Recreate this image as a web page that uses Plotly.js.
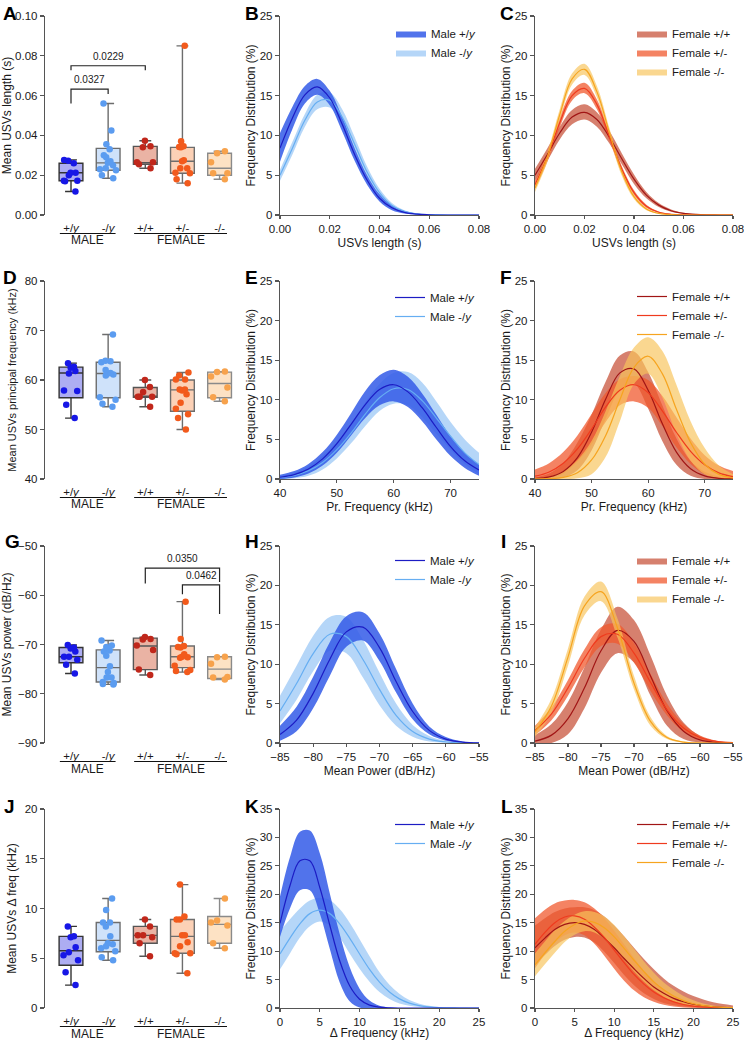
<!DOCTYPE html>
<html><head><meta charset="utf-8">
<script src="https://cdn.plot.ly/plotly-3.0.1.min.js"></script>
<style>html,body{margin:0;padding:0;background:#fff}#chart{width:744px;height:1040px}</style>
</head><body><div id="chart"></div>
<script>
// ---------------- categories / labels ----------------
const boxGroups = ['+/y', '-/y', '+/+', '+/-', '-/-'];
const boxTickText = ['+/<i>y</i>', '-/<i>y</i>', '+/+', '+/-', '-/-'];
const sexLabels = ['MALE', 'FEMALE'];
const maleNames = ['Male +/<i>y</i>', 'Male -/<i>y</i>'];
const femaleNames = ['Female +/+', 'Female +/-', 'Female -/-'];

// ---------------- Panel A: mean USV length (s) ----------------
const lenPts = [
  [0.0277, 0.0272, 0.026, 0.0212, 0.0212, 0.020, 0.0172, 0.0172, 0.0170, 0.0118],
  [0.056, 0.0425, 0.0355, 0.033, 0.030, 0.029, 0.027, 0.0262, 0.025, 0.0235, 0.023, 0.0225, 0.020, 0.0185],
  [0.0373, 0.0345, 0.034, 0.0265, 0.0265, 0.0255, 0.0235],
  [0.085, 0.037, 0.0345, 0.034, 0.0342, 0.0275, 0.027, 0.0235, 0.0235, 0.021, 0.0212, 0.018, 0.016],
  [0.032, 0.031, 0.0265, 0.021, 0.021, 0.018]
];
const lenQ1 = [0.0172, 0.0225, 0.0255, 0.021, 0.020];
const lenMed = [0.0212, 0.0262, 0.0263, 0.027, 0.0235];
const lenQ3 = [0.026, 0.0335, 0.0345, 0.034, 0.031];

// ---------------- Panel D: principal frequency (kHz) ----------------
const frqPts = [
  [63.4, 62.7, 62.5, 61.8, 61.3, 57.9, 57.8, 55.0, 52.3],
  [69.2, 63.9, 63.8, 63.6, 62.0, 61.4, 61.3, 61.1, 60.9, 56.5, 56.0, 55.2, 54.6],
  [60.0, 58.6, 57.6, 56.6, 56.6, 56.6, 54.6],
  [61.5, 60.9, 60.1, 60.1, 58.1, 58.1, 57.9, 57.1, 55.4, 54.2, 53.1, 52.3, 50.0],
  [61.7, 61.6, 60.7, 58.5, 56.5, 55.7]
];
const frqQ1 = [56.4, 56.4, 56.5, 53.7, 56.4];
const frqMed = [61.4, 61.3, 56.6, 58.0, 59.3];
const frqQ3 = [62.6, 63.6, 58.5, 60.0, 61.6];

// ---------------- Panel G: power (dB/Hz) ----------------
const powPts = [
  [-70.1, -70.6, -70.8, -71.4, -72.5, -72.5, -73.1, -74.1, -75.9],
  [-69.2, -70.2, -70.5, -71.2, -71.4, -72.3, -74.4, -75.6, -76.7, -76.7, -77.6, -77.8, -78.0, -78.1],
  [-68.5, -68.9, -69.0, -70.2, -71.1, -75.1, -76.2],
  [-61.3, -68.9, -70.3, -70.5, -70.6, -72.0, -72.5, -72.6, -72.7, -74.3, -75.2, -75.4, -75.6],
  [-72.6, -72.5, -73.9, -76.6, -76.7, -77.1]
];
const powQ1 = [-73.7, -77.6, -75.1, -74.7, -76.9];
const powMed = [-72.5, -74.7, -70.3, -72.5, -75.0];
const powQ3 = [-70.6, -71.1, -68.7, -70.3, -72.5];

// ---------------- Panel J: delta frequency (kHz) ----------------
const dfPts = [
  [8.2, 7.2, 7.1, 6.1, 5.6, 5.3, 4.8, 3.6, 2.3],
  [11.0, 9.85, 8.6, 8.6, 8.2, 7.2, 6.5, 6.4, 6.2, 6.0, 5.7, 5.1, 4.8],
  [8.9, 8.2, 7.3, 7.3, 7.1, 6.5, 5.2],
  [12.4, 9.2, 8.9, 8.9, 7.3, 7.3, 6.6, 6.2, 5.5, 5.5, 5.4, 3.5],
  [11.0, 8.8, 8.6, 8.3, 6.5, 6.0]
];
const dfQ1 = [4.3, 5.65, 6.5, 5.5, 6.5];
const dfMed = [5.75, 6.8, 7.3, 7.2, 8.4];
const dfQ3 = [7.2, 8.6, 8.2, 8.9, 9.2];

// ---------------- Panels B / C: USV length distributions ----------------
const lenX = [0, 0.005, 0.01, 0.015, 0.02, 0.025, 0.03, 0.035, 0.04, 0.045, 0.05, 0.055, 0.06, 0.065, 0.07, 0.075, 0.08];
const len_mpy    = [8.4, 12.2, 15.1, 16.1, 14.7, 11.4, 7.6, 4.4, 2.1, 0.9, 0.32, 0.1, 0.03, 0, 0, 0, 0];
const len_mpy_hi = [10.3, 13.6, 16.2, 17.1, 15.6, 12.3, 8.4, 5.0, 2.6, 1.2, 0.5, 0.2, 0.05, 0, 0, 0, 0];
const len_mpy_lo = [6.7, 10.8, 14.0, 15.1, 13.8, 10.5, 6.8, 3.8, 1.7, 0.6, 0.2, 0.05, 0, 0, 0, 0, 0];
const len_mmy    = [5.0, 8.4, 11.9, 14.2, 14.4, 12.3, 8.9, 5.4, 2.8, 1.2, 0.45, 0.14, 0.04, 0.01, 0, 0, 0];
const len_mmy_hi = [5.7, 9.2, 12.7, 15.1, 15.4, 13.3, 9.8, 6.1, 3.3, 1.5, 0.6, 0.2, 0.06, 0.01, 0, 0, 0];
const len_mmy_lo = [4.3, 7.6, 11.1, 13.3, 13.5, 11.4, 8.1, 4.8, 2.4, 1.0, 0.35, 0.1, 0.02, 0, 0, 0, 0];
const len_fpp    = [5.0, 7.6, 10.3, 12.3, 12.9, 12.0, 9.8, 7.1, 4.5, 2.5, 1.24, 0.54, 0.21, 0.07, 0.02, 0, 0];
const len_fpp_hi = [5.8, 8.4, 11.1, 13.2, 13.9, 12.9, 10.6, 7.8, 5.1, 2.9, 1.5, 0.7, 0.28, 0.1, 0.03, 0, 0];
const len_fpp_lo = [4.3, 6.8, 9.5, 11.4, 12.0, 11.1, 9.0, 6.4, 3.9, 2.1, 1.0, 0.4, 0.15, 0.04, 0.01, 0, 0];
const len_fpm    = [3.8, 7.3, 11.6, 15.0, 15.9, 13.9, 9.9, 5.8, 2.8, 1.1, 0.35, 0.09, 0.02, 0, 0, 0, 0];
const len_fpm_hi = [4.3, 7.9, 12.2, 15.6, 16.6, 14.5, 10.4, 6.2, 3.1, 1.3, 0.45, 0.13, 0.03, 0, 0, 0, 0];
const len_fpm_lo = [3.3, 6.7, 11.0, 14.4, 15.3, 13.3, 9.4, 5.4, 2.5, 0.9, 0.27, 0.06, 0.01, 0, 0, 0, 0];
const len_fmm    = [3.4, 7.3, 12.6, 17.1, 18.3, 15.5, 10.4, 5.5, 2.3, 0.76, 0.2, 0.04, 0, 0, 0, 0, 0];
const len_fmm_hi = [3.9, 7.9, 13.3, 17.8, 19.0, 16.2, 11.0, 5.9, 2.6, 0.9, 0.26, 0.06, 0.01, 0, 0, 0, 0];
const len_fmm_lo = [2.9, 6.7, 11.9, 16.4, 17.6, 14.8, 9.8, 5.0, 2.0, 0.6, 0.15, 0.03, 0, 0, 0, 0, 0];

// ---------------- Panels E / F: principal frequency distributions ----------------
const frqX = [40, 42.5, 45, 47.5, 50, 52.5, 55, 57.5, 60, 62.5, 65, 67.5, 70, 72.5, 75];
const frq_mpy    = [0.22, 0.56, 1.27, 2.54, 4.46, 6.9, 9.4, 11.3, 11.9, 11.0, 9.0, 6.5, 4.1, 2.3, 1.13];
const frq_mpy_hi = [0.55, 1.0, 1.9, 3.4, 5.6, 8.3, 11.1, 13.1, 13.8, 12.9, 10.8, 8.1, 5.4, 3.3, 1.8];
const frq_mpy_lo = [0, 0.2, 0.7, 1.7, 3.3, 5.5, 7.7, 9.3, 9.8, 9.1, 7.3, 5.0, 2.9, 1.4, 0.4];
const frq_mmy    = [0.18, 0.46, 1.04, 2.08, 3.7, 5.8, 8.2, 10.25, 11.4, 11.3, 9.9, 7.7, 5.4, 3.3, 1.83];
const frq_mmy_hi = [0.35, 0.8, 1.6, 2.9, 4.7, 7.0, 9.7, 12.0, 13.4, 13.5, 12.2, 9.8, 7.2, 5.0, 3.3];
const frq_mmy_lo = [0, 0.1, 0.4, 1.2, 2.6, 4.5, 6.7, 8.6, 9.5, 9.3, 7.8, 5.7, 3.7, 1.9, 0.6];
const frq_fpp    = [0.06, 0.26, 0.96, 2.7, 5.9, 10.1, 13.4, 13.9, 11.2, 7.0, 3.4, 1.3, 0.39, 0.09, 0.02];
const frq_fpp_hi = [0.2, 0.7, 2.0, 4.6, 8.1, 12.3, 15.6, 16.1, 13.5, 9.3, 5.1, 2.3, 0.9, 0.3, 0.1];
const frq_fpp_lo = [0, 0, 0.2, 1.1, 3.6, 7.6, 11.2, 12.0, 8.9, 4.8, 1.8, 0.4, 0, 0, 0];
const frq_fpm    = [0.35, 0.89, 2.0, 3.8, 6.3, 9.1, 11.2, 11.9, 10.9, 8.6, 5.9, 3.5, 1.8, 0.77, 0.29];
const frq_fpm_hi = [1.2, 2.0, 3.4, 5.5, 8.2, 10.9, 12.6, 13.0, 12.5, 10.5, 7.8, 5.1, 3.0, 1.7, 1.0];
const frq_fpm_lo = [0, 0.1, 0.7, 2.2, 4.4, 7.2, 9.3, 9.8, 9.0, 6.7, 4.0, 1.9, 0.6, 0, 0];
const frq_fmm    = [0.01, 0.04, 0.2, 0.79, 2.4, 5.5, 10.0, 14.1, 15.5, 13.3, 8.8, 4.6, 1.86, 0.58, 0.14];
const frq_fmm_hi = [0.1, 0.3, 1.0, 2.4, 4.8, 8.6, 13.0, 16.6, 17.9, 16.2, 11.9, 7.3, 3.9, 1.7, 0.6];
const frq_fmm_lo = [0, 0, 0, 0.1, 0.6, 2.8, 7.3, 12.0, 13.3, 10.3, 5.7, 2.3, 0.6, 0.1, 0];

// ---------------- Panels H / I: mean power distributions ----------------
const powX = [-85, -82.5, -80, -77.5, -75, -72.5, -70, -67.5, -65, -62.5, -60, -57.5, -55];
const pow_mpy    = [1.07, 2.9, 6.3, 10.6, 14.1, 14.7, 12.1, 7.8, 4.0, 1.6, 0.5, 0.12, 0.02];
const pow_mpy_hi = [2.2, 4.6, 8.4, 12.8, 16.1, 16.6, 13.9, 9.4, 5.0, 2.1, 0.75, 0.2, 0.03];
const pow_mpy_lo = [0.3, 1.5, 4.4, 8.5, 12.2, 13.0, 10.4, 6.4, 3.0, 1.1, 0.3, 0.06, 0.01];
const pow_mmy    = [4.06, 7.55, 11.35, 13.8, 13.5, 10.6, 6.8, 3.5, 1.45, 0.49, 0.13, 0.03, 0];
const pow_mmy_hi = [6.0, 9.8, 13.6, 16.0, 16.0, 13.1, 8.9, 5.0, 2.3, 0.9, 0.3, 0.07, 0.01];
const pow_mmy_lo = [2.5, 5.5, 9.1, 11.7, 11.4, 8.3, 4.8, 2.2, 0.8, 0.2, 0.05, 0, 0];
const pow_fpp    = [0.24, 1.0, 3.1, 7.0, 11.7, 14.3, 12.9, 8.5, 4.1, 1.5, 0.39, 0.07, 0.01];
const pow_fpp_hi = [1.0, 2.4, 5.2, 9.6, 14.4, 17.3, 15.6, 11.1, 6.0, 2.6, 0.9, 0.25, 0.05];
const pow_fpp_lo = [0, 0, 1.1, 4.4, 8.9, 11.4, 10.2, 6.0, 2.2, 0.5, 0.05, 0, 0];
const pow_fpm    = [1.57, 3.7, 7.0, 10.75, 13.5, 13.8, 11.4, 7.7, 4.2, 1.9, 0.69, 0.2, 0.05];
const pow_fpm_hi = [2.2, 4.5, 8.0, 11.9, 14.7, 15.1, 12.7, 8.8, 5.0, 2.4, 0.95, 0.3, 0.08];
const pow_fpm_lo = [1.0, 2.9, 6.0, 9.6, 12.3, 12.6, 10.2, 6.6, 3.5, 1.45, 0.47, 0.12, 0.02];
const pow_fmm    = [1.4, 4.7, 10.9, 17.4, 19.2, 14.6, 7.6, 2.75, 0.69, 0.12, 0.02, 0, 0];
const pow_fmm_hi = [2.0, 5.6, 12.0, 18.6, 20.5, 15.8, 8.5, 3.3, 0.9, 0.18, 0.03, 0, 0];
const pow_fmm_lo = [0.8, 3.8, 9.8, 16.2, 18.0, 13.4, 6.8, 2.2, 0.5, 0.07, 0.01, 0, 0];

// ---------------- Panels K / L: delta frequency distributions ----------------
const dfX = [0, 1.25, 2.5, 3.75, 5, 6.25, 7.5, 8.75, 10, 11.25, 12.5, 13.75, 15, 16.25, 17.5, 18.75, 20, 21.25, 22.5, 23.75, 25];
const df_mpy    = [14.9, 21.5, 25.9, 25.9, 21.2, 14.6, 8.3, 3.9, 1.55, 0.51, 0.14, 0.03, 0, 0, 0, 0, 0, 0, 0, 0, 0];
const df_mpy_hi = [19.6, 26.5, 31.0, 31.2, 27.2, 20.2, 13.0, 7.2, 3.4, 1.3, 0.4, 0.1, 0.02, 0, 0, 0, 0, 0, 0, 0, 0];
const df_mpy_lo = [12.5, 17.5, 20.7, 20.7, 16.6, 10.4, 4.5, 1.2, 0.1, 0, 0, 0, 0, 0, 0, 0, 0, 0, 0, 0, 0];
const df_mmy    = [9.5, 12.3, 14.8, 16.6, 17.2, 16.6, 14.8, 12.3, 9.5, 6.8, 4.55, 2.8, 1.6, 0.86, 0.43, 0.2, 0.08, 0.03, 0, 0, 0];
const df_mmy_hi = [13.5, 15.6, 17.5, 18.9, 19.4, 19.0, 17.4, 15.0, 12.1, 9.1, 6.3, 4.1, 2.5, 1.4, 0.75, 0.38, 0.18, 0.07, 0.03, 0.01, 0];
const df_mmy_lo = [6.8, 9.6, 12.4, 14.4, 15.2, 14.5, 12.4, 9.6, 6.9, 4.6, 2.8, 1.6, 0.8, 0.4, 0.18, 0.07, 0.03, 0.01, 0, 0, 0];
const df_fpp    = [10.6, 12.3, 13.8, 14.7, 15.0, 14.7, 13.8, 12.3, 10.6, 8.7, 6.9, 5.2, 3.7, 2.6, 1.7, 1.1, 0.66, 0.38, 0.21, 0.11, 0.06];
const df_fpp_hi = [14.5, 15.8, 16.9, 17.5, 17.7, 17.7, 17.2, 16.1, 14.5, 12.6, 10.6, 8.6, 6.8, 5.2, 3.9, 2.9, 2.1, 1.5, 1.0, 0.7, 0.45];
const df_fpp_lo = [7.5, 9.3, 10.9, 12.0, 12.5, 12.4, 11.5, 9.9, 7.9, 5.8, 4.0, 2.6, 1.6, 0.9, 0.5, 0.25, 0.1, 0.05, 0.02, 0, 0];
const df_fpm    = [11.2, 13.3, 15.0, 16.0, 16.2, 15.6, 14.2, 12.4, 10.2, 8.0, 5.9, 4.2, 2.8, 1.8, 1.08, 0.62, 0.34, 0.18, 0.09, 0.04, 0.02];
const df_fpm_hi = [15.8, 17.3, 18.4, 18.9, 19.0, 18.6, 17.5, 15.8, 13.6, 11.2, 8.8, 6.6, 4.8, 3.3, 2.2, 1.4, 0.85, 0.5, 0.28, 0.15, 0.08];
const df_fpm_lo = [7.0, 9.4, 11.5, 12.8, 13.3, 12.8, 11.3, 9.2, 6.9, 4.8, 3.1, 1.9, 1.1, 0.55, 0.25, 0.1, 0.04, 0.01, 0, 0, 0];
const df_fmm    = [7.6, 9.7, 11.7, 13.5, 14.7, 15.3, 15.05, 14.1, 12.5, 10.5, 8.4, 6.4, 4.6, 3.2, 2.1, 1.3, 0.75, 0.42, 0.22, 0.11, 0.05];
const df_fmm_hi = [9.6, 11.7, 13.7, 15.3, 16.4, 17.0, 16.9, 16.1, 14.6, 12.6, 10.4, 8.2, 6.2, 4.5, 3.2, 2.1, 1.35, 0.8, 0.45, 0.25, 0.13];
const df_fmm_lo = [5.6, 7.7, 9.7, 11.6, 12.9, 13.5, 13.3, 12.2, 10.5, 8.5, 6.4, 4.6, 3.1, 2.0, 1.2, 0.65, 0.33, 0.16, 0.07, 0.03, 0.01];

// ---------------- styling ----------------
const W = 744, H = 1040;
const FONT = 'Liberation Sans, Arial, Helvetica, sans-serif';
const TXT = '#1a1a1a', AX = '#555';
const ptColor = ['#1717e6', '#5b9cf0', '#c0271b', '#f25a1c', '#f7a24c'];
const boxFill = ['#adadf2', '#cfe2fa', '#eab3a4', '#fcd1b6', '#fde2c4'];
const boxLine = ['#333333', '#6d6d6d', '#555555', '#6d6d6d', '#8a8a8a'];
const maleFill = ['rgba(52,92,232,0.86)', 'rgba(160,202,246,0.78)'];
const maleLine = ['#1c1cc4', '#66aef2'];
const femFill = ['rgba(200,85,62,0.75)', 'rgba(240,88,44,0.74)', 'rgba(248,196,92,0.68)'];
const femLine = ['#a11515', '#ef3b1e', '#f6a41f'];

const colPx = [[45, 240], [280, 479], [535, 733]];
const rowPx = [[16, 215], [281, 479], [546, 743], [809, 1008]];
const xdom = c => [colPx[c][0] / W, colPx[c][1] / W];
const ydom = r => [1 - rowPx[r][1] / H, 1 - rowPx[r][0] / H];
const ax = i => (i === 1 ? '' : String(i));
function ticksFor(range, step) {
  const out = [];
  for (let k = 0; range[0] + k * step <= range[1] + step * 1e-6; k++) out.push(+(range[0] + k * step).toFixed(6));
  return out;
}

const traces = [];
const layout = {
  width: W, height: H, margin: {l: 0, r: 0, t: 0, b: 0},
  paper_bgcolor: '#fff', plot_bgcolor: 'rgba(0,0,0,0)',
  font: {family: FONT, color: TXT, size: 11.5},
  showlegend: true, boxmode: 'overlay',
  shapes: [], annotations: []
};

function yAxis(i, r, range, dtick, fmt, title, tsize, standoff) {
  layout['yaxis' + ax(i)] = {
    domain: ydom(r), anchor: 'x' + ax(i), range: range, tickvals: ticksFor(range, dtick),
    tickformat: fmt || '', showline: true, linecolor: AX, linewidth: 1.2,
    ticks: 'outside', ticklen: 4, tickwidth: 1.1, tickcolor: AX,
    showgrid: false, zeroline: false, fixedrange: true,
    tickfont: {family: FONT, size: 11.5, color: TXT},
    title: {text: title, font: {family: FONT, size: tsize || 12, color: TXT}, standoff: standoff}
  };
}

// ---------- box panels ----------
function boxPanel(i, r, pts, q1, med, q3, range, dtick, fmt, title, tsize) {
  const xa = 'x' + ax(i), ya = 'y' + ax(i);
  layout['xaxis' + ax(i)] = {
    domain: xdom(0), anchor: ya, range: [-0.7, 4.55], tickvals: [0, 1, 2, 3, 4], ticktext: boxTickText,
    showline: false, showgrid: false, zeroline: false, ticks: 'outside', ticklen: 2, tickcolor: 'rgba(0,0,0,0)',
    tickfont: {family: FONT, size: 11.5, color: TXT}, fixedrange: true
  };
  yAxis(i, r, range, dtick, fmt, title, tsize, 5);
  for (let g = 0; g < boxGroups.length; g++) {
    traces.push({
      type: 'box', xaxis: xa, yaxis: ya, x: [g], q1: [q1[g]], median: [med[g]], q3: [q3[g]],
      lowerfence: [Math.min(...pts[g])], upperfence: [Math.max(...pts[g])],
      width: 0.64, whiskerwidth: 0.5, boxpoints: false,
      fillcolor: boxFill[g], line: {color: boxLine[g], width: 1.4},
      showlegend: false, hoverinfo: 'skip', name: boxGroups[g]
    });
    traces.push({
      type: 'box', xaxis: xa, yaxis: ya, x: pts[g].map(() => g), y: pts[g],
      width: 0.64, boxpoints: 'all', jitter: 0.85, pointpos: 0,
      fillcolor: 'rgba(0,0,0,0)', line: {color: 'rgba(0,0,0,0)', width: 0},
      marker: {color: ptColor[g], size: 6.5}, showlegend: false, hoverinfo: 'skip', name: boxGroups[g]
    });
  }
  // sex group underlines and labels
  const yl = 1 - (rowPx[r][1] + 18.5) / H, yt = 1 - (rowPx[r][1] + 25.5) / H;
  [[-0.3, 1.2, sexLabels[0]], [1.7, 4.2, sexLabels[1]]].forEach(([a, b, lab]) => {
    layout.shapes.push({type: 'line', xref: xa, yref: 'paper', x0: a, x1: b, y0: yl, y1: yl, line: {color: '#111', width: 1.2}});
    layout.annotations.push({xref: xa, yref: 'paper', x: (a + b) / 2, y: yt, text: lab, showarrow: false,
      font: {family: FONT, size: 12, color: TXT}, xanchor: 'center', yanchor: 'middle', borderpad: 0});
  });
}

function bracket(i, g0, g1, top, legL, legR, label) {
  const xa = 'x' + ax(i), ya = 'y' + ax(i);
  layout.shapes.push({type: 'path', xref: xa, yref: ya,
    path: `M ${g0},${legL} L ${g0},${top} L ${g1},${top} L ${g1},${legR}`,
    line: {color: '#222', width: 1.2}});
  layout.annotations.push({xref: xa, yref: ya, x: (g0 + g1) / 2, y: top, yshift: 2, text: label, showarrow: false,
    yanchor: 'bottom', font: {family: FONT, size: 10, color: TXT}});
}

// ---------- distribution panels ----------
function curveAxes(i, r, c, xr, xdt, xfmt, xtitle, yr, ydt) {
  const xa = 'x' + ax(i), ya = 'y' + ax(i);
  layout['xaxis' + ax(i)] = {
    domain: xdom(c), anchor: ya, range: xr, tickvals: ticksFor(xr, xdt), tickformat: xfmt || '',
    ticklabeloverflow: 'allow',
    showline: true, linecolor: AX, linewidth: 1.2, ticks: 'outside', ticklen: 3, tickwidth: 1.1, tickcolor: AX,
    showgrid: false, zeroline: false, fixedrange: true,
    tickfont: {family: FONT, size: 11.5, color: TXT},
    title: {text: xtitle, font: {family: FONT, size: 12, color: TXT}, standoff: 4}
  };
  yAxis(i, r, yr, ydt, '', 'Frequency Distribution (%)', 12, 1);
}

function band(i, x, lo, hi, fill, name, leg, rank, inLegend) {
  const xa = 'x' + ax(i), ya = 'y' + ax(i);
  traces.push({type: 'scatter', mode: 'lines', xaxis: xa, yaxis: ya, x: x, y: lo,
    line: {width: 0, shape: 'spline', smoothing: 1, color: fill}, showlegend: false, hoverinfo: 'skip'});
  traces.push({type: 'scatter', mode: 'lines', xaxis: xa, yaxis: ya, x: x, y: hi, fill: 'tonexty', fillcolor: fill,
    line: {width: 0, shape: 'spline', smoothing: 1, color: fill}, name: name, legend: leg, legendrank: rank,
    showlegend: inLegend, hoverinfo: 'skip'});
}
function meanLine(i, x, y, color, name, leg, rank, inLegend) {
  traces.push({type: 'scatter', mode: 'lines', xaxis: 'x' + ax(i), yaxis: 'y' + ax(i), x: x, y: y,
    line: {width: 1.2, shape: 'spline', smoothing: 1, color: color}, name: name, legend: leg, legendrank: rank,
    showlegend: inLegend, hoverinfo: 'skip'});
}
function legendBox(id, xpx, ypx) {
  layout[id] = {x: (xpx - 40) / W, y: 1 - ypx / H, xanchor: 'left', yanchor: 'top', bgcolor: 'rgba(0,0,0,0)',
    borderwidth: 0, itemwidth: 30, traceorder: 'normal', font: {family: FONT, size: 11.5, color: TXT}, tracegroupgap: 0};
}

function malePanel(i, x, mPY, mPYlo, mPYhi, mMY, mMYlo, mMYhi, leg, bandLegend) {
  band(i, x, mMYlo, mMYhi, maleFill[1], maleNames[1], leg, 2, bandLegend);
  band(i, x, mPYlo, mPYhi, maleFill[0], maleNames[0], leg, 1, bandLegend);
  meanLine(i, x, mMY, maleLine[1], maleNames[1], leg, 2, !bandLegend);
  meanLine(i, x, mPY, maleLine[0], maleNames[0], leg, 1, !bandLegend);
}
function femalePanel(i, x, sets, leg, bandLegend) {
  sets.forEach((s, k) => band(i, x, s[1], s[2], femFill[k], femaleNames[k], leg, k + 1, bandLegend));
  sets.forEach((s, k) => meanLine(i, x, s[0], femLine[k], femaleNames[k], leg, k + 1, !bandLegend));
}

// Row 1
boxPanel(1, 0, lenPts, lenQ1, lenMed, lenQ3, [0, 0.1], 0.02, '.2f', 'Mean USVs length (s)');
bracket(1, 0, 2, 0.075, 0.0727, 0.0727, '0.0229');
bracket(1, 0, 1, 0.0633, 0.056, 0.0608, '0.0327');
curveAxes(2, 0, 1, [0, 0.08], 0.02, '.2f', 'USVs length (s)', [0, 25], 5);
malePanel(2, lenX, len_mpy, len_mpy_lo, len_mpy_hi, len_mmy, len_mmy_lo, len_mmy_hi, 'legend', true);
curveAxes(3, 0, 2, [0, 0.08], 0.02, '.2f', 'USVs length (s)', [0, 25], 5);
femalePanel(3, lenX, [[len_fpp, len_fpp_lo, len_fpp_hi], [len_fpm, len_fpm_lo, len_fpm_hi], [len_fmm, len_fmm_lo, len_fmm_hi]], 'legend2', true);

// Row 2
boxPanel(4, 1, frqPts, frqQ1, frqMed, frqQ3, [40, 80], 10, '', 'Mean USVs principal frequency (kHz)', 11);
curveAxes(5, 1, 1, [40, 75], 10, '', 'Pr. Frequency (kHz)', [0, 25], 5);
malePanel(5, frqX, frq_mpy, frq_mpy_lo, frq_mpy_hi, frq_mmy, frq_mmy_lo, frq_mmy_hi, 'legend3', false);
curveAxes(6, 1, 2, [40, 75], 10, '', 'Pr. Frequency (kHz)', [0, 25], 5);
femalePanel(6, frqX, [[frq_fpp, frq_fpp_lo, frq_fpp_hi], [frq_fpm, frq_fpm_lo, frq_fpm_hi], [frq_fmm, frq_fmm_lo, frq_fmm_hi]], 'legend4', false);

// Row 3
boxPanel(7, 2, powPts, powQ1, powMed, powQ3, [-90, -50], 10, '', 'Mean USVs power (dB/Hz)');
bracket(7, 2, 4, -54.5, -57.6, -57.3, '0.0350');
bracket(7, 3, 4, -57.9, -59.8, -63.8, '0.0462');
curveAxes(8, 2, 1, [-85, -55], 5, '', 'Mean Power (dB/Hz)', [0, 25], 5);
malePanel(8, powX, pow_mpy, pow_mpy_lo, pow_mpy_hi, pow_mmy, pow_mmy_lo, pow_mmy_hi, 'legend5', false);
curveAxes(9, 2, 2, [-85, -55], 5, '', 'Mean Power (dB/Hz)', [0, 25], 5);
femalePanel(9, powX, [[pow_fpp, pow_fpp_lo, pow_fpp_hi], [pow_fpm, pow_fpm_lo, pow_fpm_hi], [pow_fmm, pow_fmm_lo, pow_fmm_hi]], 'legend6', true);

// Row 4
boxPanel(10, 3, dfPts, dfQ1, dfMed, dfQ3, [0, 20], 5, '', 'Mean USVs Δ freq (kHz)');
curveAxes(11, 3, 1, [0, 25], 5, '', 'Δ Frequency (kHz)', [0, 35], 5);
malePanel(11, dfX, df_mpy, df_mpy_lo, df_mpy_hi, df_mmy, df_mmy_lo, df_mmy_hi, 'legend7', false);
curveAxes(12, 3, 2, [0, 25], 5, '', 'Δ Frequency (kHz)', [0, 35], 5);
femalePanel(12, dfX, [[df_fpp, df_fpp_lo, df_fpp_hi], [df_fpm, df_fpm_lo, df_fpm_hi], [df_fmm, df_fmm_lo, df_fmm_hi]], 'legend8', false);

legendBox('legend', 431, 19);
legendBox('legend2', 672, 19);
legendBox('legend3', 430, 283);
legendBox('legend4', 672, 282);
legendBox('legend5', 430, 546);
legendBox('legend6', 672, 546);
legendBox('legend7', 430, 810);
legendBox('legend8', 672, 810);

// panel letters
[['A', 1, 1], ['B', 243, 1], ['C', 498, 1], ['D', 1, 265], ['E', 243, 265], ['F', 498, 265],
 ['G', 3, 529], ['H', 243, 529], ['I', 499, 529], ['J', 2, 794], ['K', 243, 794], ['L', 499, 794]]
  .forEach(([t, x, y]) => layout.annotations.push({xref: 'paper', yref: 'paper', x: x / W, y: 1 - y / H,
    xanchor: 'left', yanchor: 'top', text: '<b>' + t + '</b>', showarrow: false,
    font: {family: FONT, size: 19, color: '#000'}}));

Plotly.newPlot('chart', traces, layout, {displayModeBar: false, staticPlot: true});
</script>
</body></html>
